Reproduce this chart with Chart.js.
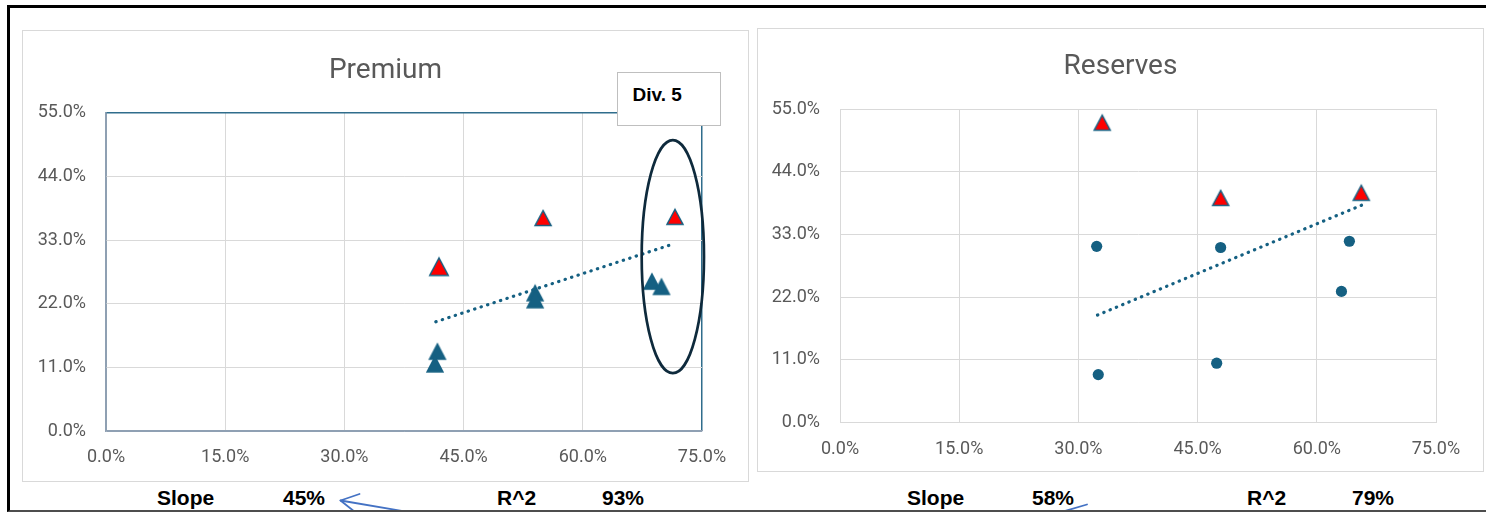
<!DOCTYPE html>
<html>
<head>
<meta charset="utf-8">
<title>Premium and Reserves</title>
<script src="https://cdn.jsdelivr.net/npm/chart.js@4.4.1/dist/chart.umd.min.js"></script>
<style>
  html, body { margin: 0; padding: 0; background: #fff; }
  body { width: 1486px; height: 512px; position: relative; overflow: hidden; font-family: "Liberation Sans", Arial, sans-serif; }
  .box { position: absolute; box-sizing: border-box; border: 1px solid #d9d9d9; background: #fff; }
  .box canvas { display: block; }
  .note { position: absolute; left: 617px; top: 72px; width: 104px; height: 54px; box-sizing: border-box; border: 1.5px solid #bfbfbf; background: #fff; }
  .note span { position: absolute; left: 14.5px; top: 12px; font: bold 19px/19px "Liberation Sans", Arial, sans-serif; color: #000; white-space: nowrap; }
  .stat { position: absolute; top: 487px; font: bold 21px/21px "Liberation Sans", Arial, sans-serif; color: #000; white-space: nowrap; }
  svg.marks { position: absolute; left: 0; top: 0; }
  .frame { position: absolute; left: 7px; top: 5px; width: 1479px; height: 507px; box-sizing: border-box;
           border-top: 3px solid #000; border-left: 3px solid #000; border-bottom: 2px solid #4d4d4d; pointer-events: none; }
</style>
</head>
<body>

<div class="box" style="left:22px;top:30px;width:727px;height:452px;"><canvas id="premium" width="725" height="450"></canvas></div>
<div class="box" style="left:757px;top:28px;width:727px;height:444px;"><canvas id="reserves" width="725" height="442"></canvas></div>
<div class="note"><span>Div. 5</span></div>

<div class="stat" style="left:157px;">Slope</div>
<div class="stat" id="premiumSlope" style="left:283px;"></div>
<div class="stat" style="left:497px;">R^2</div>
<div class="stat" id="premiumR2" style="left:602px;"></div>
<div class="stat" style="left:907px;">Slope</div>
<div class="stat" id="reservesSlope" style="left:1032px;"></div>
<div class="stat" style="left:1247px;">R^2</div>
<div class="stat" id="reservesR2" style="left:1352px;"></div>

<svg class="marks" width="1486" height="512">
  <g stroke="#4472c4" stroke-width="1.8" fill="none" stroke-linecap="round" stroke-linejoin="round">
    <path d="M340.5 500.5 L414 513"/>
    <path d="M359.5 494 L340.5 500.5 L355 512"/>
    <path d="M1058 513 L1087 504.5"/>
  </g>
</svg>
<div class="frame"></div>

<script>
// Axis tick labels
const xTickLabels = ['0.0%', '15.0%', '30.0%', '45.0%', '60.0%', '75.0%'];
const yTickLabels = ['0.0%', '11.0%', '22.0%', '33.0%', '44.0%', '55.0%'];

// Premium: divisions and flagged divisions
const premiumDivX = [0.417, 0.414, 0.540, 0.540, 0.687, 0.699];
const premiumDivY = [0.138, 0.116, 0.239, 0.227, 0.259, 0.250];
const premiumFlagX = [0.419, 0.550, 0.716];
const premiumFlagY = [0.284, 0.368, 0.370];
const premiumTrendX = [0.415, 0.711];
const premiumSlope = 0.45;
const premiumIntercept = 0.002;
const premiumR2 = 0.93;

// Reserves: divisions and flagged divisions
const reservesDivX = [0.323, 0.325, 0.479, 0.474, 0.641, 0.631];
const reservesDivY = [0.309, 0.084, 0.307, 0.104, 0.318, 0.230];
const reservesFlagX = [0.330, 0.479, 0.656];
const reservesFlagY = [0.526, 0.394, 0.403];
const reservesTrendX = [0.324, 0.657];
const reservesSlope = 0.58;
const reservesIntercept = 0.0005;
const reservesR2 = 0.79;

const pct = v => Math.round(v * 100) + '%';
document.getElementById('premiumSlope').textContent = pct(premiumSlope);
document.getElementById('premiumR2').textContent = pct(premiumR2);
document.getElementById('reservesSlope').textContent = pct(reservesSlope);
document.getElementById('reservesR2').textContent = pct(reservesR2);

const TEAL = '#156082';
const GRID = '#d9d9d9';
const TICK = '#595959';

// Triangle marker whose bounding box is centred on the point
function triangleMarker(w, h, fill, stroke, lw) {
  const size = 2 * Math.ceil(Math.max(w, h) / 2) + 4;
  const c = document.createElement('canvas');
  c.width = size; c.height = size;
  const g = c.getContext('2d');
  const m = size / 2, pw = w - lw, ph = h - lw;
  g.beginPath();
  g.moveTo(m, m - ph / 2);
  g.lineTo(m + pw / 2, m + ph / 2);
  g.lineTo(m - pw / 2, m + ph / 2);
  g.closePath();
  g.fillStyle = fill;
  g.fill();
  if (lw) { g.lineWidth = lw; g.strokeStyle = stroke; g.lineJoin = 'miter'; g.stroke(); }
  return c;
}
const blueTri = triangleMarker(18.3, 17.5, TEAL, null, 0);
const redTri = triangleMarker(17.5, 16.5, '#ff0000', TEAL, 1.5);
const redTriLarge = triangleMarker(20, 19, '#ff0000', TEAL, 1.5);

const zip = (xs, ys) => xs.map((x, i) => ({ x, y: ys[i] }));

// Chart title drawn centred across the whole chart box
const boxTitle = {
  id: 'boxTitle',
  afterDraw(chart, args, opts) {
    const ctx = chart.ctx;
    ctx.save();
    ctx.font = '28px Roboto';
    ctx.fillStyle = TICK;
    ctx.textAlign = 'center';
    ctx.textBaseline = 'alphabetic';
    ctx.fillText(opts.text, chart.width / 2, opts.baseline);
    ctx.restore();
  }
};

// Outline ring around a group of points, given in data units
const ring = {
  id: 'ring',
  afterDatasetsDraw(chart, args, opts) {
    if (!opts.show) return;
    const { x, y } = chart.scales;
    const cx = x.getPixelForValue(opts.cx), cy = y.getPixelForValue(opts.cy);
    const rx = x.getPixelForValue(opts.cx + opts.rx) - cx;
    const ry = cy - y.getPixelForValue(opts.cy + opts.ry);
    const ctx = chart.ctx;
    ctx.save();
    ctx.beginPath();
    ctx.ellipse(cx, cy, rx, ry, 0, 0, Math.PI * 2);
    ctx.lineWidth = 2.7;
    ctx.strokeStyle = '#0e2a3c';
    ctx.stroke();
    ctx.restore();
  }
};

function makeChart(id, cfg) {
  const lineColor = (c, last) => {
    if (c.index === 0) return cfg.axisColor;
    if (c.index === last) return cfg.frameColor;
    return GRID;
  };
  return new Chart(document.getElementById(id), {
    type: 'scatter',
    data: {
      datasets: [
        {
          label: 'Trend',
          data: cfg.trendX.map(x => ({ x, y: cfg.intercept + cfg.slope * x })),
          showLine: true,
          pointRadius: 0,
          borderColor: TEAL,
          borderWidth: 3.2,
          borderDash: [0.4, 6.4],
          borderCapStyle: 'round',
          fill: false
        },
        {
          label: 'Flagged',
          data: zip(cfg.flagX, cfg.flagY),
          pointStyle: cfg.flagStyle,
          pointRadius: 9
        },
        {
          label: 'Divisions',
          data: zip(cfg.divX, cfg.divY),
          pointStyle: cfg.divStyle,
          pointRadius: cfg.divRadius,
          backgroundColor: TEAL,
          borderColor: TEAL,
          borderWidth: 0
        }
      ]
    },
    options: {
      responsive: false,
      animation: false,
      devicePixelRatio: 1,
      events: [],
      layout: { padding: { left: 0, top: cfg.top, right: cfg.right, bottom: 0 } },
      plugins: {
        legend: { display: false },
        tooltip: { enabled: false },
        title: { display: false },
        boxTitle: { text: cfg.title, baseline: cfg.titleBaseline },
        ring: cfg.ring
      },
      scales: {
        x: {
          type: 'linear',
          min: 0, max: 0.75,
          ticks: {
            stepSize: 0.15,
            callback: (v, i) => xTickLabels[i],
            color: TICK,
            font: { family: 'Roboto', size: 18 },
            padding: 16,
            maxRotation: 0,
            autoSkip: false
          },
          grid: {
            drawTicks: false,
            color: c => lineColor(c, 5),
            lineWidth: c => (c.index === 5 && cfg.frameColor !== GRID) ? 1.5 : 1
          },
          border: { display: true, color: cfg.axisColor, width: cfg.axisWidth },
          afterFit: s => { s.height = cfg.xHeight; }
        },
        y: {
          type: 'linear',
          min: 0, max: 0.55,
          ticks: {
            stepSize: 0.11,
            callback: (v, i) => yTickLabels[i],
            color: TICK,
            font: { family: 'Roboto', size: 18 },
            padding: 20
          },
          grid: {
            drawTicks: false,
            color: c => lineColor(c, 5),
            lineWidth: c => (c.index === 5 && cfg.frameColor !== GRID) ? 1.5 : 1
          },
          border: { display: true, color: cfg.axisColor, width: cfg.axisWidth },
          afterFit: s => { s.width = cfg.yWidth; }
        }
      }
    },
    plugins: [boxTitle, ring]
  });
}

makeChart('premium', {
  title: 'Premium', titleBaseline: 46.5,
  divX: premiumDivX, divY: premiumDivY,
  flagX: premiumFlagX, flagY: premiumFlagY,
  trendX: premiumTrendX, slope: premiumSlope, intercept: premiumIntercept,
  divStyle: blueTri, divRadius: 9,
  flagStyle: c => (c.dataIndex === 0 ? redTriLarge : redTri),
  top: 81.7, right: 46, yWidth: 83, xHeight: 50,
  axisColor: '#8fa0b3', axisWidth: 1.3, frameColor: '#2f6d8c',
  ring: { show: true, cx: 0.7133, cy: 0.3013, rx: 0.0392, ry: 0.2014 }
});

makeChart('reserves', {
  title: 'Reserves', titleBaseline: 45,
  divX: reservesDivX, divY: reservesDivY,
  flagX: reservesFlagX, flagY: reservesFlagY,
  trendX: reservesTrendX, slope: reservesSlope, intercept: reservesIntercept,
  divStyle: 'circle', divRadius: 5.6,
  flagStyle: redTri,
  top: 80, right: 47, yWidth: 82, xHeight: 48.5,
  axisColor: GRID, axisWidth: 1, frameColor: GRID,
  ring: { show: false }
});
</script>
</body>
</html>
